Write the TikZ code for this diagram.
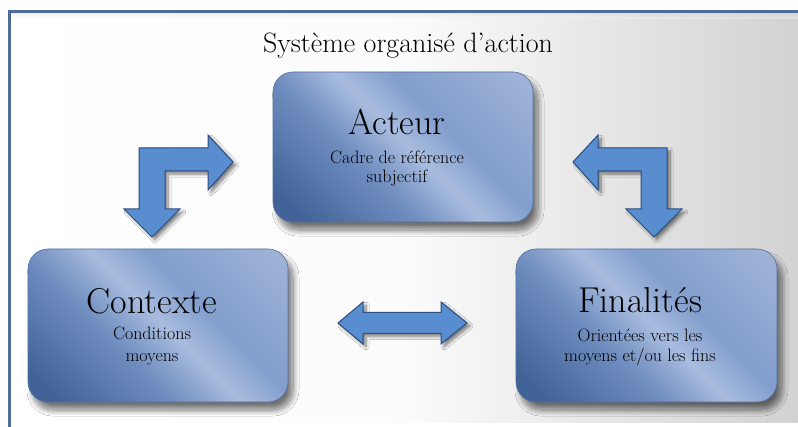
\documentclass[tikz,border=0pt]{standalone}
\usetikzlibrary{shadows,shadows.blur}
\definecolor{framec}{RGB}{78,108,152}
\definecolor{bxdark}{RGB}{66,99,152}
\definecolor{bxmid}{RGB}{112,142,192}
\definecolor{bxlight}{RGB}{168,188,222}
\definecolor{bxmidb}{RGB}{130,158,205}
\definecolor{bxtr}{RGB}{158,178,214}
\definecolor{bxedge}{RGB}{82,112,162}
\definecolor{arrowblue}{RGB}{88,141,207}
\definecolor{arrowdark}{RGB}{44,78,128}
\definecolor{bggray}{RGB}{210,210,210}
\pgfdeclarehorizontalshading{boxshade}{100bp}{color(0bp)=(bxdark); color(20bp)=(bxdark); color(40bp)=(bxmid); color(51bp)=(bxlight); color(61bp)=(bxmidb); color(82bp)=(bxtr); color(100bp)=(bxtr)}
\tikzset{
  panel/.style={rounded corners=20pt, shading=boxshade, shading angle=45, draw=bxedge, line width=0.6pt,
    blur shadow={shadow xshift=5pt, shadow yshift=-8pt, shadow blur radius=6pt, shadow blur steps=12, shadow opacity=55}},
  blockarrow/.style={fill=arrowblue, draw=arrowdark, line width=1pt, line join=miter,
    blur shadow={shadow xshift=3pt, shadow yshift=-3pt, shadow blur radius=3pt, shadow blur steps=8, shadow opacity=50}},
  bigtxt/.style={anchor=base, inner sep=0pt, font=\fontsize{36}{40}\selectfont},
  subtxt/.style={anchor=base, inner sep=0pt, font=\fontsize{18}{22}\selectfont, text=black},
  titletxt/.style={anchor=base, inner sep=0pt, font=\fontsize{28}{32}\selectfont}
}
\begin{document}
\begin{tikzpicture}[x=1pt,y=-1pt]
\useasboundingbox (0,0) rectangle (798,427);
\fill[white] (0,0) rectangle (798,427);
% background panel
\shade[left color=white, right color=bggray, middle color=white!92!bggray] (9,12) rectangle (798,423);
\shade[top color=black!15, bottom color=white, opacity=0.35] (9,13) rectangle (798,19);
\draw[framec, line width=3pt] (9,427) -- (9,12) -- (798,12);
% title
\node[titletxt] (title) at (408,53) {Système organisé d’action};
% boxes
\node[panel, minimum width=260pt, minimum height=150pt] (acteur) at (403,147) {};
\node[panel, minimum width=260pt, minimum height=153pt] (contexte) at (158,325.5) {};
\node[panel, minimum width=261pt, minimum height=153pt] (finalites) at (646.5,325.5) {};
% texts
\node[bigtxt] (acteurT) at (397,135) {Acteur};
\node[subtxt] (acteurS1) at (397,164) {Cadre de référence};
\node[subtxt] (acteurS2) at (397,183) {subjectif};
\node[bigtxt] (contexteT) at (152,314) {Contexte};
\node[subtxt] (contexteS1) at (152,340) {Conditions};
\node[subtxt] (contexteS2) at (152,362) {moyens};
\node[bigtxt] (finalitesT) at (640,313) {Finalités};
\node[subtxt] (finalitesS1) at (640,342) {Orientées vers les};
\node[subtxt] (finalitesS2) at (640,362) {moyens et/ou les fins};
% left bent arrow
\draw[blockarrow] (233,162) -- (208,190) -- (208,171) -- (165,171) -- (165,209) -- (180,209) -- (152,237)
  -- (124,209) -- (139,209) -- (139,148) -- (208,148) -- (208,135) -- cycle;
% right bent arrow
\draw[blockarrow] (573,162) -- (598,190) -- (598,171) -- (641,171) -- (641,209) -- (626,209) -- (654,237)
  -- (682,209) -- (667,209) -- (667,148) -- (598,148) -- (598,135) -- cycle;
% double arrow
\draw[blockarrow] (338,323) -- (363,302) -- (363,312.5) -- (441,312.5) -- (441,302) -- (467,323)
  -- (441,344) -- (441,333.5) -- (363,333.5) -- (363,344) -- cycle;
\end{tikzpicture}
\end{document}
